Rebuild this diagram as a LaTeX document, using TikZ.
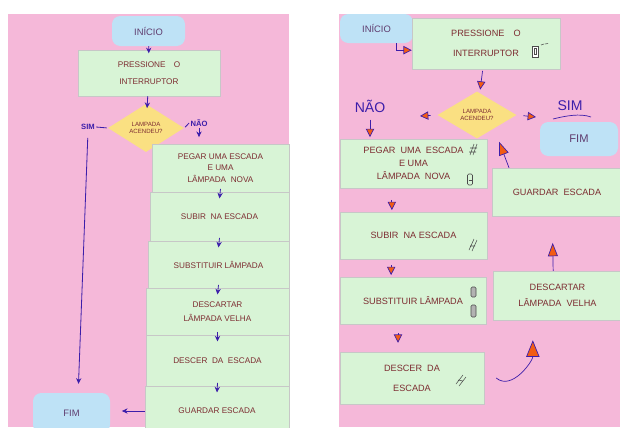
\documentclass[tikz,border=0pt]{standalone}
\usepackage{fontspec}
\setmainfont{Liberation Sans}
\usetikzlibrary{shapes.geometric,arrows.meta}
\definecolor{rosa}{RGB}{245,184,217}
\definecolor{verde}{RGB}{216,244,214}
\definecolor{azulclaro}{RGB}{190,226,246}
\definecolor{amarelo}{RGB}{250,224,130}
\definecolor{tinta}{RGB}{125,45,50}
\definecolor{roxo}{RGB}{95,60,110}
\definecolor{azul}{RGB}{60,30,170}
\definecolor{laranja}{RGB}{242,92,20}

\begin{document}
\begin{tikzpicture}[x=0.3mm,y=-0.3mm,
passo/.style={rectangle, fill=verde, draw=black!22, text=tinta, align=center, inner sep=1pt, font=\fontsize{7}{10}\selectfont},
passoB/.style={passo, font=\fontsize{7.8}{11}\selectfont},
pontas/.style={rectangle, rounded corners=2.5mm, fill=azulclaro, text=roxo, font=\fontsize{8}{10}\selectfont},
decisao/.style={diamond, aspect=1.6, inner sep=0pt, fill=amarelo, text=tinta, align=center, font=\fontsize{5.2}{6.5}\selectfont},
resposta/.style={text=azul, inner sep=1pt, font=\fontsize{6.5}{7}\selectfont\bfseries},
setaA/.style={draw=azul, line width=0.7pt, -{Stealth[length=1.7mm,width=1.6mm]}},
setaB/.style={draw=azul, line width=0.6pt, -{Triangle[length=2.5mm,width=2.5mm,fill=laranja]}},
icone/.style={draw=black!70, line width=0.45pt},
]
\clip (0,0) rectangle (620,427);
\fill[white] (0,0) rectangle (620,427);
\fill[rosa] (8,14) rectangle (289,427);
\fill[rosa] (339,14) rectangle (620,427);

% fluxograma da esquerda
\node[pontas, minimum width=21.9mm, minimum height=9mm] at(148.5,31) (inicioA) {INÍCIO};
\node[passo, minimum width=42.6mm, minimum height=13.8mm] at(149,73) (pressA) {PRESSIONE\quad O\\[5pt]INTERRUPTOR};
\node[decisao, minimum width=22.8mm, minimum height=14.4mm] at(146,128) (lampA) {LAMPADA\\ACENDEU?};
\node[resposta] at(88,127) (simA) {SIM};
\node[resposta] at(199,123) (naoA) {NÃO};
\node[passo, minimum width=41.1mm, minimum height=14.4mm] at(220.5,168) (pegarA) {PEGAR\ UMA\ ESCADA\\E UMA\\LÂMPADA\ \ NOVA};
\node[passo, minimum width=41.7mm, minimum height=14.7mm] at(219.5,216.5) (subirA) {SUBIR\ \ NA ESCADA};
\node[passo, minimum width=42.3mm, minimum height=14.1mm] at(218.5,264.5) (substA) {SUBSTITUIR LÂMPADA};
\node[passo, minimum width=42.9mm, minimum height=14.1mm] at(217.5,311.5) (descartA) {DESCARTAR\\[2pt]LÂMPADA VELHA};
\node[passo, minimum width=42.9mm, minimum height=15.3mm] at(217.5,360.5) (descerA) {DESCER\ \ DA\ \ ESCADA};
\node[passo, minimum width=43.2mm, minimum height=15mm] at(217,411) (guardarA) {GUARDAR\ ESCADA};
\node[pontas, minimum width=23.1mm, minimum height=12mm] at(71.5,413) (fimA) {FIM};

\draw[setaA, shorten >=-3pt] (inicioA) -- (pressA);
\draw[setaA, shorten >=-3pt] (pressA) -- (lampA);
\draw[azul, line width=0.7pt, shorten <=1pt] (lampA.west) -- (simA.east);
\draw[azul, line width=0.7pt, shorten <=1pt] (lampA.east) -- (naoA.west);
\draw[setaA, shorten >=2mm] (naoA.south) -- (naoA.south |- pegarA.north);
\draw[setaA, shorten <=2mm, shorten >=2.7mm] (simA.south) -- ([xshift=2mm]fimA.north);
\foreach \a/\b in {pegarA/subirA, subirA/substA, substA/descartA, descartA/descerA, descerA/guardarA}
  \draw[setaA] ([yshift=1mm]\a.south) -- ([yshift=-2mm]\b.north);
\draw[setaA, shorten >=3.5mm] (guardarA.west) -- (guardarA.west -| fimA.east);

% fluxograma da direita
\node[pontas, minimum width=21.9mm, minimum height=8.7mm] at(376.5,28.5) (inicioB) {INÍCIO};
\node[passoB, minimum width=44.4mm, minimum height=15.3mm] at(486,43.5) (pressB) {PRESSIONE\quad O\\[6pt]INTERRUPTOR};
\node[decisao, minimum width=23.7mm, minimum height=14.1mm] at(477,115) (lampB) {LAMPADA\\ACENDEU?};
\node[text=azul, font=\fontsize{12}{12}\selectfont] at(370,106) (naoB) {NÃO};
\node[text=azul, font=\fontsize{12}{12}\selectfont] at(570,106) (simB) {SIM};
\node[pontas, minimum width=23.4mm, minimum height=10.2mm, font=\fontsize{9.5}{10}\selectfont] at(579,139) (fimB) {FIM};
\node[passoB, minimum width=44.1mm, minimum height=14.7mm] at(413.5,163.5) (pegarB) {PEGAR\ \ UMA\ \ ESCADA\\E UMA\\LÂMPADA\ \ NOVA};
\node[passoB, minimum width=39mm, minimum height=14.4mm] at(557,192) (guardarB) {GUARDAR\ \ ESCADA};
\node[passoB, minimum width=44.1mm, minimum height=14.1mm] at(413.5,235.5) (subirB) {SUBIR\ \ NA ESCADA};
\node[passoB, minimum width=43.8mm, minimum height=14.1mm] at(413,300.5) (substB) {SUBSTITUIR LÂMPADA};
\node[passoB, minimum width=38.7mm, minimum height=14.7mm] at(557.5,295.5) (descartB) {DESCARTAR\\[3pt]LÂMPADA\ \ VELHA};
\node[passoB, minimum width=43.2mm, minimum height=15.6mm] at(412,378) (descerB) {DESCER\ \ DA\\[6pt]ESCADA};
\coordinate (esqB) at (420,116);
\coordinate (dirB) at (536,117);

\draw[azul, line width=0.6pt] (553,119) .. controls (565,116) and (580,113) .. (591,117);
\draw[setaB] ([xshift=6mm]inicioB.south) |- ([yshift=-2mm]pressB.west);
\draw[setaB, shorten <=0.5mm, shorten >=1mm] (pressB) -- (lampB);
\draw[setaB, shorten <=2mm] (lampB.west) -- (esqB);
\draw[setaB, shorten <=2mm] (lampB.east) -- (dirB);
\draw[setaB, shorten <=1mm, shorten >=0.5mm] (naoB.south) -- (naoB.south |- pegarB.north);
\draw[setaB, -{Triangle[length=4mm,width=3mm,fill=laranja]}, shorten >=1mm] ([xshift=-14.4mm]guardarB.north) -- ([xshift=6.3mm]lampB.south);
\draw[setaB, shorten <=3.5mm, shorten >=0.5mm] ([xshift=-6.5mm]pegarB.south) -- ([xshift=-6.5mm]pegarB.south |- subirB.north);
\draw[setaB, shorten <=1.8mm, shorten >=0.5mm] ([xshift=-6.7mm]subirB.south) -- ([xshift=-6.7mm]subirB.south |- substB.north);
\draw[setaB, shorten <=2.7mm, shorten >=2.7mm] ([xshift=-4.5mm]substB.south) -- ([xshift=-4.5mm]substB.south |- descerB.north);
\draw[setaB, -{Triangle[length=5mm,width=4mm,fill=laranja]}] ([xshift=3.6mm]descerB.east) to[out=-40,in=-90] ([xshift=-7.4mm,yshift=-6mm]descartB.south);
\draw[setaB, -{Triangle[length=4mm,width=3mm,fill=laranja]}] ([xshift=-1.3mm]descartB.north) -- ([xshift=-1.3mm,yshift=-8mm]guardarB.south);

% desenhos pequenos
\draw[icone, fill=white] (532,46) rectangle (538,57);
\draw[icone] (534,48.5) rectangle (536,54.5);
\draw[icone] (541,45) -- (544,44) (545,44) -- (548,43.5);
\draw[icone] (470,155) -- (474,144) (473,155) -- (477,144) (470,148) -- (477,148) (469,152) -- (476,152);
\draw[icone, rounded corners=1pt] (467.5,174) rectangle (472.5,185);
\draw[icone] (468.5,180) -- (471.5,180);
\draw[icone] (469,250) -- (474,239) (472,251) -- (477,240) (470,246) -- (475,246);
\draw[icone, fill=black!30, rounded corners=1pt] (471,287) rectangle (476,297);
\draw[icone, fill=black!30, rounded corners=1pt] (471,305) rectangle (476,317);
\draw[icone] (456,384) -- (463,375) (459,386) -- (466,377) (458,380) -- (463,381);
\end{tikzpicture}
\end{document}
